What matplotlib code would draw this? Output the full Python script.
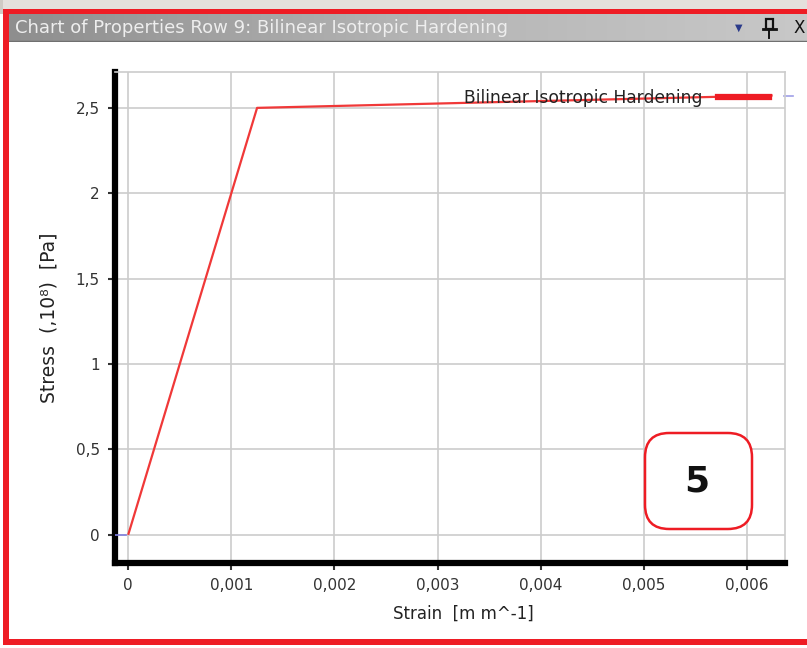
import matplotlib
matplotlib.use("Agg")
import matplotlib.pyplot as plt
from matplotlib.patches import Rectangle, FancyBboxPatch
from matplotlib.lines import Line2D
import numpy as np

# Data
strain = [0.0, 0.00125, 0.00625]
stress = [0.0, 2.5, 2.5725]  # x10^8 Pa
series_name = "Bilinear Isotropic Hardening"
x_ticks = [0, 0.001, 0.002, 0.003, 0.004, 0.005, 0.006]
x_tick_labels = ["0", "0,001", "0,002", "0,003", "0,004", "0,005", "0,006"]
y_ticks = [0, 0.5, 1, 1.5, 2, 2.5]
y_tick_labels = ["0", "0,5", "1", "1,5", "2", "2,5"]
title = "Chart of Properties Row 9: Bilinear Isotropic Hardening"

W, H = 807, 648
fig = plt.figure(figsize=(W / 100, H / 100), dpi=100)
fig.patch.set_facecolor("white")

def fx(px):
    return px / W

def fy(py):
    return 1 - py / H

# window chrome
fig.patches.append(Rectangle((0, fy(9)), 1, 9 / H, transform=fig.transFigure,
                             facecolor="#e4e0dc", edgecolor="none", zorder=0))
fig.patches.append(Rectangle((0, fy(14)), 1, 5 / H, transform=fig.transFigure,
                             facecolor="#ee1c24", edgecolor="none", zorder=1))
# title bar gradient
grad = np.linspace(0, 1, 256).reshape(1, -1)
tb = fig.add_axes([fx(9), fy(42), 1 - fx(9), 28 / H], zorder=1)
tb.imshow(grad, aspect="auto", cmap=matplotlib.colors.LinearSegmentedColormap.from_list(
    "g", ["#8e8e8e", "#b4b4b4", "#c8c8c8"]), extent=[0, 1, 0, 1])
tb.set_axis_off()
tb.set_xlim(0, 1)
tb.set_ylim(0, 1)
tb.text(0.008, 0.5, title, color="#eeeeee", fontsize=13, va="center", ha="left",
        family="DejaVu Sans Condensed", transform=tb.transAxes)
tb.text(0.915, 0.5, "\u25bc", color="#2a3a8a", fontsize=7, va="center", ha="center",
        transform=tb.transAxes)
# pin icon
tb.add_patch(Rectangle((0.949, 0.45), 0.008, 0.38, facecolor="none", edgecolor="#111111",
                       lw=1.6, transform=tb.transAxes))
tb.plot([0.945, 0.961], [0.45, 0.45], color="#111111", lw=2.0, transform=tb.transAxes)
tb.plot([0.953, 0.953], [0.15, 0.45], color="#111111", lw=1.4, transform=tb.transAxes)
tb.text(0.99, 0.5, "X", color="#111111", fontsize=12, va="center", ha="center",
        transform=tb.transAxes)
tb.axhline(0.02, color="#707070", lw=1)

# left and bottom red borders
fig.patches.append(Rectangle((fx(3), fy(645)), 6 / W, (645 - 14) / H, transform=fig.transFigure,
                             facecolor="#ee1c24", edgecolor="none", zorder=1))
fig.patches.append(Rectangle((0, fy(14)), 3 / W, (645 - 14) / H, transform=fig.transFigure,
                             facecolor="#cfcac4", edgecolor="none", zorder=1))
fig.patches.append(Rectangle((fx(3), fy(645)), 1, 6 / H, transform=fig.transFigure,
                             facecolor="#ee1c24", edgecolor="none", zorder=1))

# main axes
left, right, top, bottom = 115, 785, 72, 563
ax = fig.add_axes([fx(left), fy(bottom), (right - left) / W, (bottom - top) / H])
ax.set_xlim(-0.000128, 0.00637)
ax.set_ylim(-0.165, 2.71)

ax.plot(strain, stress, color="#f03838", lw=1.6, zorder=3, solid_capstyle="butt")
ax.plot([-0.000128, -0.00002], [0, 0], color="#8080e0", lw=1.2, zorder=3)

ax.set_xticks(x_ticks)
ax.set_xticklabels(x_tick_labels)
ax.set_yticks(y_ticks)
ax.set_yticklabels(y_tick_labels)
ax.tick_params(axis="both", labelsize=11, colors="#333333", length=5, width=1.5,
               direction="out")
ax.tick_params(axis="x", pad=6)
ax.tick_params(axis="y", pad=6)
ax.grid(True, color="#cccccc", lw=1.2)
ax.set_axisbelow(True)
for s in ["left", "bottom"]:
    ax.spines[s].set_linewidth(4.5)
    ax.spines[s].set_color("black")
for s in ["top", "right"]:
    ax.spines[s].set_linewidth(1.2)
    ax.spines[s].set_color("#cccccc")

ax.set_xlabel("Strain  [m m^-1]", fontsize=12, color="#222222", labelpad=10)
ax.xaxis.set_label_coords(0.52, -0.085)
ax.set_ylabel("Stress  (,10\u2078)  [Pa]", fontsize=13.5, color="#222222", labelpad=12)

handle = Line2D([0], [0], color="#ee1c24", lw=4.5)
leg = ax.legend([handle], [series_name], loc="upper right", frameon=False,
                markerfirst=False, fontsize=12.3, handlelength=3.0, handletextpad=0.9,
                bbox_to_anchor=(0.992, 0.986), borderaxespad=0.2)
for t in leg.get_texts():
    t.set_color("#222222")
ax.plot([0.00636, 0.00645], [2.569, 2.569], color="#a0a0e8", lw=1.2, clip_on=False)

# annotation box "5"
box = FancyBboxPatch((fx(645), fy(529)), (752 - 645) / W, (529 - 433) / H,
                     boxstyle="round,pad=0,rounding_size=0.03", transform=fig.transFigure,
                     facecolor="white", edgecolor="#ee1c24", lw=1.8, zorder=5,
                     mutation_aspect=W / H)
fig.patches.append(box)
fig.text(fx(697), fy(481), "5", fontsize=26, fontweight="bold", ha="center", va="center",
         color="#111111", zorder=6, family="Liberation Sans Narrow")

fig.savefig("out.png", dpi=100)
